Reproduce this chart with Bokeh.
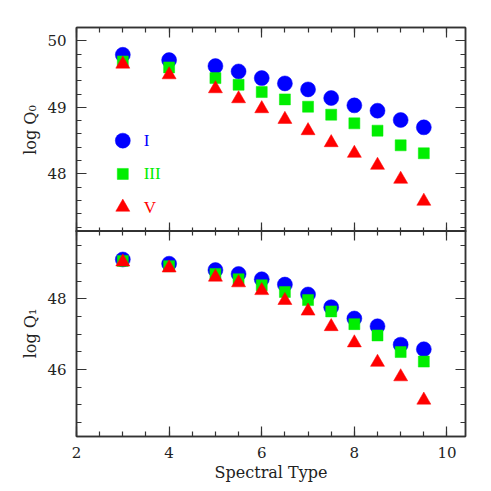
from bokeh.plotting import figure
from bokeh.layouts import column
from bokeh.models import FixedTicker, LinearAxis, Range1d, CustomJSTickFormatter
from bokeh.core.properties import value
from bokeh.embed import file_html
from bokeh.resources import INLINE

spectral_type = [3, 4, 5, 5.5, 6, 6.5, 7, 7.5, 8, 8.5, 9, 9.5]

q0_I   = [49.79, 49.71, 49.62, 49.54, 49.44, 49.36, 49.27, 49.14, 49.03, 48.95, 48.81, 48.70]
q0_III = [49.69, 49.60, 49.44, 49.34, 49.23, 49.12, 49.01, 48.89, 48.76, 48.65, 48.43, 48.31]
q0_V   = [49.65, 49.49, 49.28, 49.13, 48.98, 48.82, 48.65, 48.47, 48.31, 48.13, 47.92, 47.59]

q1_I   = [49.11, 48.99, 48.81, 48.70, 48.55, 48.40, 48.12, 47.76, 47.44, 47.22, 46.70, 46.57]
q1_III = [49.07, 48.92, 48.70, 48.55, 48.38, 48.19, 47.96, 47.64, 47.28, 46.96, 46.49, 46.22]
q1_V   = [49.04, 48.87, 48.61, 48.45, 48.23, 47.95, 47.65, 47.21, 46.75, 46.20, 45.79, 45.13]

classes = ["I", "III", "V"]
class_colors = ["#0000ff", "#00ee00", "#ff0000"]
class_markers = ["circle", "square", "triangle"]
class_sizes = [15, 11, 14]
legend_x = [3, 3, 3]
legend_y = [48.5, 48.0, 47.5]
legend_text_x = [3.45, 3.45, 3.45]

x_major = [2, 4, 6, 8, 10]
x_minor = [2 + 0.5 * i for i in range(17)]
top_major = [48, 49, 50]
top_minor = [47.2 + 0.2 * i for i in range(16)]
bot_major = [44, 46, 48]
bot_minor = [44.5 + 0.5 * i for i in range(11)]

AX = "#333333"
FONT = "DejaVu Serif"


def style_axis(ax, major, minor, labels=True):
    ax.ticker = FixedTicker(ticks=major, minor_ticks=minor)
    ax.axis_line_color = AX
    ax.axis_line_width = 1.5
    ax.major_tick_line_color = AX
    ax.minor_tick_line_color = AX
    ax.major_tick_line_width = 1.2
    ax.minor_tick_line_width = 1.2
    ax.major_tick_in = 10
    ax.major_tick_out = 0
    ax.minor_tick_in = 5
    ax.minor_tick_out = 0
    ax.major_label_text_font = FONT
    ax.major_label_text_color = "#222222"
    ax.axis_label_text_font = FONT
    ax.axis_label_text_font_style = "normal"
    ax.axis_label_text_color = "#222222"
    ax.axis_label_text_font_size = "16px"
    if labels:
        ax.major_label_text_font_size = "15px"
        ax.major_label_standoff = 10
    else:
        ax.formatter = CustomJSTickFormatter(code="return ''")
        ax.major_label_text_font_size = "1px"
        ax.major_label_standoff = 0


def make_fig(yr, ymajor, yminor, ylabel, show_xlabels, border_top, border_bottom, fh, margin):
    p = figure(width=480, frame_width=389, frame_height=fh,
               x_range=Range1d(2, 10.4), y_range=yr,
               output_backend="svg", toolbar_location=None,
               x_axis_location=None, y_axis_location=None,
               min_border_left=76, min_border_right=18,
               min_border_top=border_top, min_border_bottom=border_bottom,
               margin=margin)
    p.xgrid.visible = False
    p.ygrid.visible = False
    p.outline_line_color = AX
    p.outline_line_width = 1.5
    p.background_fill_color = None
    p.border_fill_color = None

    bx = LinearAxis()
    style_axis(bx, x_major, x_minor, labels=show_xlabels)
    if show_xlabels:
        bx.axis_label = "Spectral Type"
        bx.axis_label_standoff = 2
    p.add_layout(bx, "below")
    tx = LinearAxis()
    style_axis(tx, x_major, x_minor, labels=False)
    p.add_layout(tx, "above")
    ly = LinearAxis(axis_label=ylabel)
    style_axis(ly, ymajor, yminor, labels=True)
    ly.axis_label_standoff = 4
    p.add_layout(ly, "left")
    ry = LinearAxis()
    style_axis(ry, ymajor, yminor, labels=False)
    p.add_layout(ry, "right")
    return p


top = make_fig(Range1d(47.12, 50.2), top_major, top_minor, "log Q\u2080",
               False, 27, 0, 205, (0, 0, 0, 0))
bot = make_fig(Range1d(44.1, 49.93), bot_major, bot_minor, "log Q\u2081",
               True, 0, 10, 206, (-2, 0, 0, 0))

for fig, series in ((top, (q0_I, q0_III, q0_V)), (bot, (q1_I, q1_III, q1_V))):
    for ys, col, mk, sz in zip(series, class_colors, class_markers, class_sizes):
        fig.scatter(spectral_type, ys, marker=mk, size=sz,
                    fill_color=col, line_color=col, line_width=0.5)

for lx, ly, lt, col, mk, sz in zip(legend_x, legend_y, classes, class_colors,
                                   class_markers, class_sizes):
    top.scatter([lx], [ly], marker=mk, size=sz, fill_color=col, line_color=col,
                line_width=0.5)
for tx_, ly, lt, col in zip(legend_text_x, legend_y, classes, class_colors):
    top.text([tx_], [ly], text=[lt], text_color=col,
             text_font=value("Liberation Serif"), text_font_size="17px",
             text_baseline="middle", text_align="left")

layout = column(top, bot, spacing=0)

open("out.html", "w").write(file_html(layout, INLINE))
